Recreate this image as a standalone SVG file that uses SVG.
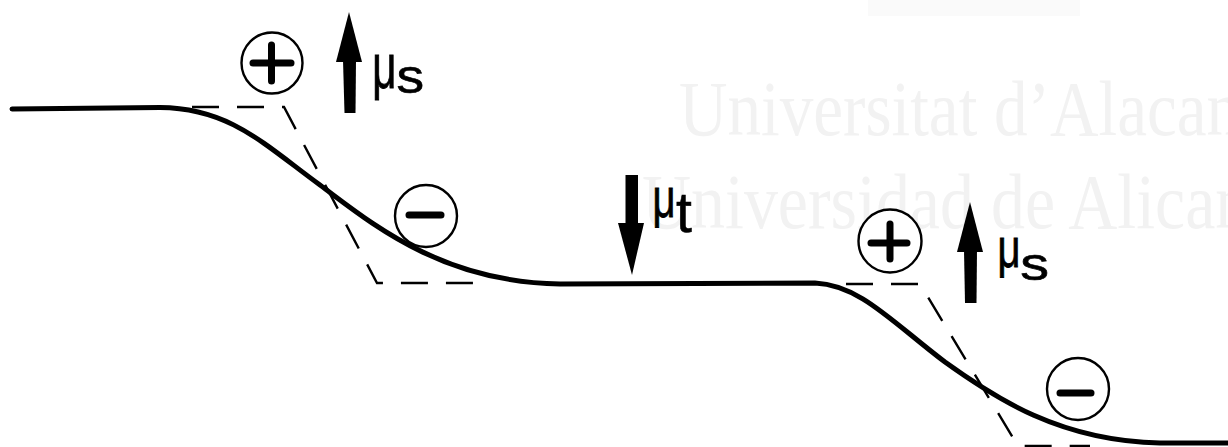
<svg xmlns="http://www.w3.org/2000/svg" width="1228" height="447" viewBox="0 0 1228 447">
<style>
.wm{font-family:"Liberation Serif",serif;font-size:79px;fill:#f2f2f2}
.curve{fill:none;stroke:#000;stroke-width:5;stroke-linecap:round;stroke-linejoin:round}
.dash{fill:none;stroke:#000;stroke-width:2.4;stroke-dasharray:27 18}
.ring{fill:#fff;stroke:#000;stroke-width:2.4}
.sign{stroke:#000;stroke-width:7;stroke-linecap:round}
.lbl{font-family:"Liberation Sans",Arial,sans-serif;fill:#000;stroke:#000;stroke-width:0.6}
.arr{fill:#000}
</style>
<rect width="1228" height="447" fill="#fff"/>
<g id="watermark">
<rect x="868" y="0" width="212" height="16" fill="#fafafa"/>
<text class="wm" transform="translate(679,135) scale(0.85,1)">Universitat d’Alacant</text>
<text class="wm" transform="translate(642,228) scale(0.86,1)">Universidad de Alicante</text>
</g>
<g id="connectors">
<path class="dash" d="M192,107 L284,107 L377,283 L488,283"/>
<path class="dash" d="M846,284 L920,284 L1018,446 L1090,446"/>
<path class="curve" d="M12,109 L160,107.5 C230,108 265,145 320,185 C370,222 440,282 560,284 L815,283 C860,285 892,322 945,362 C995,398 1060,441 1160,443 L1228,443"/>
</g>
<g id="charge-plus-1">
<circle class="ring" cx="272" cy="63" r="30.5"/>
<line class="sign" x1="253" y1="63" x2="291" y2="63"/>
<line class="sign" x1="271.5" y1="45" x2="271.5" y2="81"/>
</g>
<g id="charge-minus-1">
<circle class="ring" cx="426" cy="216" r="31"/>
<line class="sign" x1="409" y1="215" x2="441" y2="215"/>
</g>
<g id="charge-plus-2">
<circle class="ring" cx="890" cy="241" r="31.5"/>
<line class="sign" x1="871" y1="243" x2="907" y2="243"/>
<line class="sign" x1="890" y1="224" x2="890" y2="259"/>
</g>
<g id="charge-minus-2">
<circle class="ring" cx="1078" cy="389" r="31"/>
<line class="sign" x1="1060" y1="393" x2="1091" y2="393"/>
</g>
<g id="mu-s-1">
<polygon class="arr" points="349,12 362,62 336,62"/>
<polygon class="arr" points="343,60 356,60 355.5,113 344.5,113"/>
<text class="lbl" font-size="42" transform="translate(372.2,88) scale(1,1.5)">μ</text>
<text class="lbl" font-size="48" transform="translate(396.5,93) scale(1.15,1)">s</text>
</g>
<g id="mu-t">
<polygon class="arr" points="625.5,175 638,175 638,225 625.5,225"/>
<polygon class="arr" points="618,223 644,223 632,275"/>
<text class="lbl" font-size="40" transform="translate(652.4,217) scale(1,1.4)">μ</text>
<text class="lbl" font-size="57" x="676" y="232">t</text>
</g>
<g id="mu-s-2">
<polygon class="arr" points="970,202 983,252 957,252"/>
<polygon class="arr" points="964,250 977,250 976.5,303 965,303"/>
<text class="lbl" font-size="40" transform="translate(997.4,267) scale(1,1.4)">μ</text>
<text class="lbl" font-size="46" transform="translate(1020.3,280) scale(1.25,1)">s</text>
</g>
</svg>
